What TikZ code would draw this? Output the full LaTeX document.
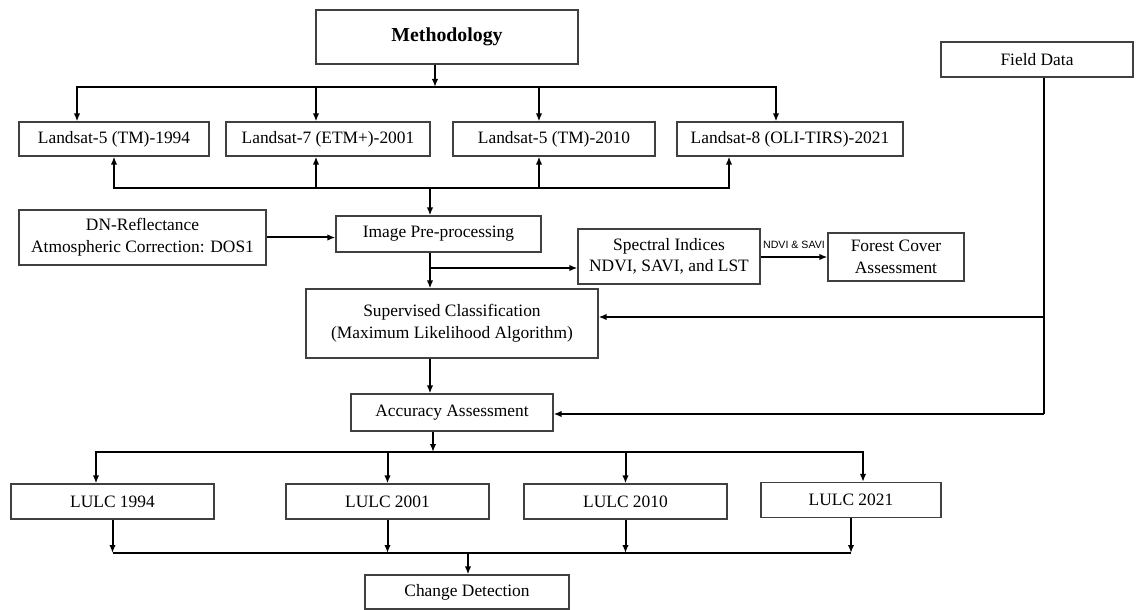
\documentclass[tikz,border=0pt]{standalone}
\usepackage{fontspec}
\setmainfont{Liberation Serif}
\newfontfamily\labfont{Liberation Sans}
\usetikzlibrary{arrows.meta}

\begin{document}
\begin{tikzpicture}[x=0.5pt, y=-0.5pt,
                   box/.style={draw=black!75, line width=0.6pt, align=center, inner sep=0pt,
                               font=\fontsize{8.7}{10.8}\selectfont},
                   link/.style={line width=1pt, -{Latex[length=4pt,width=3.2pt]}},
                   line/.style={line width=1pt}]
          \useasboundingbox (0,0) rectangle (1137,610);
          % boxes
          \node[box, minimum width=131pt, minimum height=27pt,
                font=\fontsize{9.9}{12}\selectfont\bfseries] (meth) at (447,37) {Methodology};
          \node[box, minimum width=95pt, minimum height=17pt] (ls1) at (114,139) {Landsat-5 (TM)-1994};
          \node[box, minimum width=102pt, minimum height=17pt] (ls2) at (328,139) {Landsat-7 (ETM+)-2001};
          \node[box, minimum width=101pt, minimum height=17pt] (ls3) at (554,139) {Landsat-5 (TM)-2010};
          \node[box, minimum width=113pt, minimum height=17pt] (ls4) at (790,139) {Landsat-8 (OLI-TIRS)-2021};
          \node[box, minimum width=96pt, minimum height=17.5pt] (field) at (1037,59.5) {Field Data};
          \node[box, minimum width=123.5pt, minimum height=27.5pt] (dn) at (142.5,237.5)
                {DN-Reflectance\\ Atmospheric Correction: DOS1};
          \node[box, minimum width=102.5pt, minimum height=18pt] (pre) at (438.5,234) {Image Pre-processing};
          \node[box, minimum width=91pt, minimum height=27.5pt] (spec) at (669,256.5)
                {Spectral Indices\\ NDVI, SAVI, and LST};
          \node[box, minimum width=68pt, minimum height=24pt] (forest) at (896,257)
                {Forest Cover\\ Assessment};
          \node[box, minimum width=146pt, minimum height=34.5pt] (sup) at (452,323.5)
                {Supervised Classification\\ (Maximum Likelihood Algorithm)};
          \node[box, minimum width=101pt, minimum height=18.5pt] (acc) at (452,412.5) {Accuracy Assessment};
          \node[box, minimum width=101.5pt, minimum height=17.5pt] (lu1) at (112.5,501.5) {LULC 1994};
          \node[box, minimum width=101.5pt, minimum height=17.5pt] (lu2) at (387.5,501.5) {LULC 2001};
          \node[box, minimum width=101.5pt, minimum height=17.5pt] (lu3) at (625.5,501.5) {LULC 2010};
          \node[box, minimum width=90pt, minimum height=17.5pt] (lu4) at (851,500) {LULC 2021};
          \node[box, minimum width=102pt, minimum height=17pt] (chg) at (467,592) {Change Detection};

          % junctions
          \coordinate (top) at (435,87);
          \coordinate (bot) at (430,188);
          \coordinate (br) at (430,268);
          \coordinate (fdm) at (1044,317);
          \coordinate (fdb) at (1044,414);
          \coordinate (spl) at (433,452);
          \coordinate (mrg) at (468,553);

          % methodology to the four scenes
          \draw[link] (meth.south -| top) -- (top);
          \draw[link] (top) -| ([xshift=-18.5pt]ls1.north);
          \draw[link] (top) -| ([xshift=-6pt]ls2.north);
          \draw[link] (top) -| ([xshift=-7.5pt]ls3.north);
          \draw[link] (top) -| ([xshift=-7pt]ls4.north);
          \draw[link] (bot) -| (ls1.south);
          \draw[link] (bot) -| ([xshift=-6pt]ls2.south);
          \draw[link] (bot) -| ([xshift=-7.5pt]ls3.south);
          \draw[link] (bot) -| ([xshift=-30.5pt]ls4.south);
          \draw[link] (bot) -- (bot |- pre.north);

          % pre-processing and classification
          \draw[link] (dn.east) -- (dn.east -| pre.west);
          \draw[link] (bot |- pre.south) -- (bot |- sup.north);
          \draw[link] (br) -- (br -| spec.west);
          \draw[link] (spec.east |- forest.west) -- (forest.west)
                node[midway, above=0.5pt, font=\labfont\fontsize{5.3}{6}\selectfont] {NDVI \& SAVI};
          \draw[line width=0.7pt] ([xshift=3.5pt]field.south) -- (fdb);
          \draw[link] (fdm) -- (fdm -| sup.east);
          \draw[link] (fdb) -- (fdb -| acc.east);
          \draw[link] (bot |- sup.south) -- (bot |- acc.north);

          % LULC maps and change detection
          \draw[link] (acc.south -| spl) -- (spl);
          \draw[link] (spl) -| ([xshift=-8.25pt]lu1.north);
          \draw[link] (spl) -| (lu2.north);
          \draw[link] (spl) -| (lu3.north);
          \draw[link] (spl) -| ([xshift=6pt]lu4.north);
          \foreach \n in {lu1,lu2,lu3,lu4}
            \draw[link] (\n.south) -- (\n.south |- mrg);
          \draw[line] (lu1.south |- mrg) -- (lu4.south |- mrg);
          \draw[link] (mrg) -- (mrg |- chg.north);
        \end{tikzpicture}
\end{document}
